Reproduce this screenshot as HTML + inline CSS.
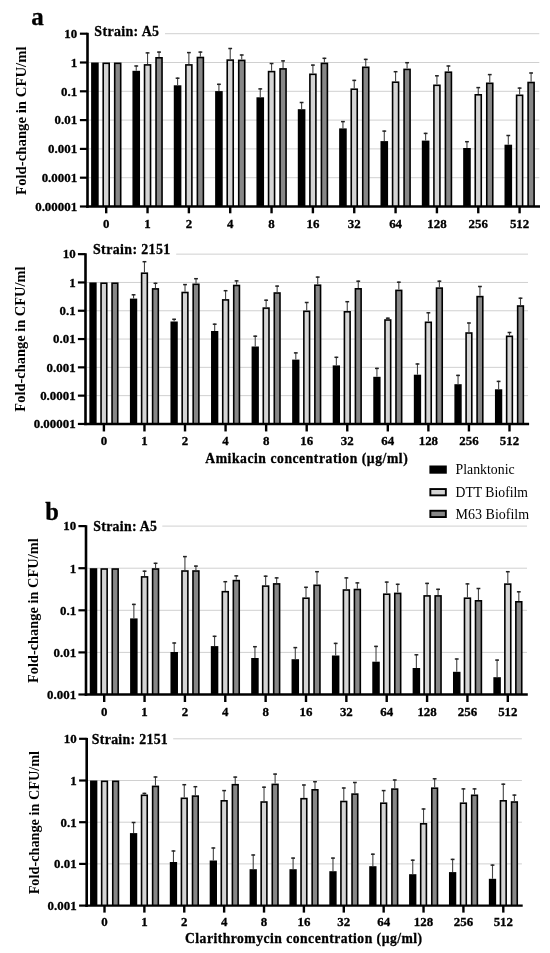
<!DOCTYPE html>
<html><head><meta charset="utf-8"><style>
html,body{margin:0;padding:0;background:#fff;}
svg{display:block;font-family:"Liberation Serif", serif;will-change:transform;filter:blur(0.3px);}
</style></head><body>
<svg width="550" height="953" viewBox="0 0 550 953" fill="#000">
<rect width="550" height="953" fill="#fff"/>
<line x1="165" y1="33.7" x2="539.3" y2="33.7" stroke="#d0d0d0" stroke-width="1"/>
<line x1="88.8" y1="62.5" x2="539.3" y2="62.5" stroke="#d0d0d0" stroke-width="1"/>
<line x1="88.8" y1="91.3" x2="539.3" y2="91.3" stroke="#d0d0d0" stroke-width="1"/>
<line x1="88.8" y1="120.1" x2="539.3" y2="120.1" stroke="#d0d0d0" stroke-width="1"/>
<line x1="88.8" y1="148.9" x2="539.3" y2="148.9" stroke="#d0d0d0" stroke-width="1"/>
<line x1="88.8" y1="177.7" x2="539.3" y2="177.7" stroke="#d0d0d0" stroke-width="1"/>
<rect x="91.1" y="62.5" width="7.6" height="144" fill="#000"/>
<rect x="102.4" y="62.5" width="7.6" height="144" fill="#000"/>
<rect x="104" y="64.1" width="4.4" height="142.4" fill="#d4d4d4"/>
<rect x="113.9" y="62.5" width="7.6" height="144" fill="#000"/>
<rect x="115.5" y="64.1" width="4.4" height="142.4" fill="#878787"/>
<rect x="132.44" y="70.8" width="7.6" height="135.7" fill="#000"/>
<line x1="136.24" y1="65.4" x2="136.24" y2="70.8" stroke="#444" stroke-width="1.1"/>
<line x1="134.34" y1="66" x2="138.14" y2="66" stroke="#222" stroke-width="1.5"/>
<rect x="143.74" y="64.1" width="7.6" height="142.4" fill="#000"/>
<rect x="145.34" y="65.7" width="4.4" height="140.8" fill="#d4d4d4"/>
<line x1="147.54" y1="52.3" x2="147.54" y2="64.1" stroke="#444" stroke-width="1.1"/>
<line x1="145.64" y1="52.9" x2="149.44" y2="52.9" stroke="#222" stroke-width="1.5"/>
<rect x="155.24" y="57" width="7.6" height="149.5" fill="#000"/>
<rect x="156.84" y="58.6" width="4.4" height="147.9" fill="#878787"/>
<line x1="159.04" y1="51.5" x2="159.04" y2="57" stroke="#444" stroke-width="1.1"/>
<line x1="157.14" y1="52.1" x2="160.94" y2="52.1" stroke="#222" stroke-width="1.5"/>
<rect x="173.78" y="85.3" width="7.6" height="121.2" fill="#000"/>
<line x1="177.58" y1="77.6" x2="177.58" y2="85.3" stroke="#444" stroke-width="1.1"/>
<line x1="175.68" y1="78.2" x2="179.48" y2="78.2" stroke="#222" stroke-width="1.5"/>
<rect x="185.08" y="64.1" width="7.6" height="142.4" fill="#000"/>
<rect x="186.68" y="65.7" width="4.4" height="140.8" fill="#d4d4d4"/>
<line x1="188.88" y1="52" x2="188.88" y2="64.1" stroke="#444" stroke-width="1.1"/>
<line x1="186.98" y1="52.6" x2="190.78" y2="52.6" stroke="#222" stroke-width="1.5"/>
<rect x="196.58" y="56.7" width="7.6" height="149.8" fill="#000"/>
<rect x="198.18" y="58.3" width="4.4" height="148.2" fill="#878787"/>
<line x1="200.38" y1="51.5" x2="200.38" y2="56.7" stroke="#444" stroke-width="1.1"/>
<line x1="198.48" y1="52.1" x2="202.28" y2="52.1" stroke="#222" stroke-width="1.5"/>
<rect x="215.12" y="91.1" width="7.6" height="115.4" fill="#000"/>
<line x1="218.92" y1="83.7" x2="218.92" y2="91.1" stroke="#444" stroke-width="1.1"/>
<line x1="217.02" y1="84.3" x2="220.82" y2="84.3" stroke="#222" stroke-width="1.5"/>
<rect x="226.42" y="59.3" width="7.6" height="147.2" fill="#000"/>
<rect x="228.02" y="60.9" width="4.4" height="145.6" fill="#d4d4d4"/>
<line x1="230.22" y1="47.9" x2="230.22" y2="59.3" stroke="#444" stroke-width="1.1"/>
<line x1="228.32" y1="48.5" x2="232.12" y2="48.5" stroke="#222" stroke-width="1.5"/>
<rect x="237.92" y="59.6" width="7.6" height="146.9" fill="#000"/>
<rect x="239.52" y="61.2" width="4.4" height="145.3" fill="#878787"/>
<line x1="241.72" y1="54.4" x2="241.72" y2="59.6" stroke="#444" stroke-width="1.1"/>
<line x1="239.82" y1="55" x2="243.62" y2="55" stroke="#222" stroke-width="1.5"/>
<rect x="256.46" y="97.3" width="7.6" height="109.2" fill="#000"/>
<line x1="260.26" y1="88.3" x2="260.26" y2="97.3" stroke="#444" stroke-width="1.1"/>
<line x1="258.36" y1="88.9" x2="262.16" y2="88.9" stroke="#222" stroke-width="1.5"/>
<rect x="267.76" y="70.8" width="7.6" height="135.7" fill="#000"/>
<rect x="269.36" y="72.4" width="4.4" height="134.1" fill="#d4d4d4"/>
<line x1="271.56" y1="62.9" x2="271.56" y2="70.8" stroke="#444" stroke-width="1.1"/>
<line x1="269.66" y1="63.5" x2="273.46" y2="63.5" stroke="#222" stroke-width="1.5"/>
<rect x="279.26" y="68.1" width="7.6" height="138.4" fill="#000"/>
<rect x="280.86" y="69.7" width="4.4" height="136.8" fill="#878787"/>
<line x1="283.06" y1="60.3" x2="283.06" y2="68.1" stroke="#444" stroke-width="1.1"/>
<line x1="281.16" y1="60.9" x2="284.96" y2="60.9" stroke="#222" stroke-width="1.5"/>
<rect x="297.8" y="109.2" width="7.6" height="97.3" fill="#000"/>
<line x1="301.6" y1="101.9" x2="301.6" y2="109.2" stroke="#444" stroke-width="1.1"/>
<line x1="299.7" y1="102.5" x2="303.5" y2="102.5" stroke="#222" stroke-width="1.5"/>
<rect x="309.1" y="73.5" width="7.6" height="133" fill="#000"/>
<rect x="310.7" y="75.1" width="4.4" height="131.4" fill="#d4d4d4"/>
<line x1="312.9" y1="64.5" x2="312.9" y2="73.5" stroke="#444" stroke-width="1.1"/>
<line x1="311" y1="65.1" x2="314.8" y2="65.1" stroke="#222" stroke-width="1.5"/>
<rect x="320.6" y="62.6" width="7.6" height="143.9" fill="#000"/>
<rect x="322.2" y="64.2" width="4.4" height="142.3" fill="#878787"/>
<line x1="324.4" y1="57.7" x2="324.4" y2="62.6" stroke="#444" stroke-width="1.1"/>
<line x1="322.5" y1="58.3" x2="326.3" y2="58.3" stroke="#222" stroke-width="1.5"/>
<rect x="339.14" y="128.4" width="7.6" height="78.1" fill="#000"/>
<line x1="342.94" y1="121" x2="342.94" y2="128.4" stroke="#444" stroke-width="1.1"/>
<line x1="341.04" y1="121.6" x2="344.84" y2="121.6" stroke="#222" stroke-width="1.5"/>
<rect x="350.44" y="88.4" width="7.6" height="118.1" fill="#000"/>
<rect x="352.04" y="90" width="4.4" height="116.5" fill="#d4d4d4"/>
<line x1="354.24" y1="79.8" x2="354.24" y2="88.4" stroke="#444" stroke-width="1.1"/>
<line x1="352.34" y1="80.4" x2="356.14" y2="80.4" stroke="#222" stroke-width="1.5"/>
<rect x="361.94" y="66.5" width="7.6" height="140" fill="#000"/>
<rect x="363.54" y="68.1" width="4.4" height="138.4" fill="#878787"/>
<line x1="365.74" y1="58.8" x2="365.74" y2="66.5" stroke="#444" stroke-width="1.1"/>
<line x1="363.84" y1="59.4" x2="367.64" y2="59.4" stroke="#222" stroke-width="1.5"/>
<rect x="380.48" y="141.1" width="7.6" height="65.4" fill="#000"/>
<line x1="384.28" y1="130.5" x2="384.28" y2="141.1" stroke="#444" stroke-width="1.1"/>
<line x1="382.38" y1="131.1" x2="386.18" y2="131.1" stroke="#222" stroke-width="1.5"/>
<rect x="391.78" y="81.4" width="7.6" height="125.1" fill="#000"/>
<rect x="393.38" y="83" width="4.4" height="123.5" fill="#d4d4d4"/>
<line x1="395.58" y1="71.1" x2="395.58" y2="81.4" stroke="#444" stroke-width="1.1"/>
<line x1="393.68" y1="71.7" x2="397.48" y2="71.7" stroke="#222" stroke-width="1.5"/>
<rect x="403.28" y="68.6" width="7.6" height="137.9" fill="#000"/>
<rect x="404.88" y="70.2" width="4.4" height="136.3" fill="#878787"/>
<line x1="407.08" y1="62.1" x2="407.08" y2="68.6" stroke="#444" stroke-width="1.1"/>
<line x1="405.18" y1="62.7" x2="408.98" y2="62.7" stroke="#222" stroke-width="1.5"/>
<rect x="421.82" y="140.6" width="7.6" height="65.9" fill="#000"/>
<line x1="425.62" y1="132.8" x2="425.62" y2="140.6" stroke="#444" stroke-width="1.1"/>
<line x1="423.72" y1="133.4" x2="427.52" y2="133.4" stroke="#222" stroke-width="1.5"/>
<rect x="433.12" y="84.5" width="7.6" height="122" fill="#000"/>
<rect x="434.72" y="86.1" width="4.4" height="120.4" fill="#d4d4d4"/>
<line x1="436.92" y1="75.2" x2="436.92" y2="84.5" stroke="#444" stroke-width="1.1"/>
<line x1="435.02" y1="75.8" x2="438.82" y2="75.8" stroke="#222" stroke-width="1.5"/>
<rect x="444.62" y="71.4" width="7.6" height="135.1" fill="#000"/>
<rect x="446.22" y="73" width="4.4" height="133.5" fill="#878787"/>
<line x1="448.42" y1="65.4" x2="448.42" y2="71.4" stroke="#444" stroke-width="1.1"/>
<line x1="446.52" y1="66" x2="450.32" y2="66" stroke="#222" stroke-width="1.5"/>
<rect x="463.16" y="148" width="7.6" height="58.5" fill="#000"/>
<line x1="466.96" y1="141.1" x2="466.96" y2="148" stroke="#444" stroke-width="1.1"/>
<line x1="465.06" y1="141.7" x2="468.86" y2="141.7" stroke="#222" stroke-width="1.5"/>
<rect x="474.46" y="94" width="7.6" height="112.5" fill="#000"/>
<rect x="476.06" y="95.6" width="4.4" height="110.9" fill="#d4d4d4"/>
<line x1="478.26" y1="87" x2="478.26" y2="94" stroke="#444" stroke-width="1.1"/>
<line x1="476.36" y1="87.6" x2="480.16" y2="87.6" stroke="#222" stroke-width="1.5"/>
<rect x="485.96" y="82.5" width="7.6" height="124" fill="#000"/>
<rect x="487.56" y="84.1" width="4.4" height="122.4" fill="#878787"/>
<line x1="489.76" y1="74" x2="489.76" y2="82.5" stroke="#444" stroke-width="1.1"/>
<line x1="487.86" y1="74.6" x2="491.66" y2="74.6" stroke="#222" stroke-width="1.5"/>
<rect x="504.5" y="144.7" width="7.6" height="61.8" fill="#000"/>
<line x1="508.3" y1="134.9" x2="508.3" y2="144.7" stroke="#444" stroke-width="1.1"/>
<line x1="506.4" y1="135.5" x2="510.2" y2="135.5" stroke="#222" stroke-width="1.5"/>
<rect x="515.8" y="94.5" width="7.6" height="112" fill="#000"/>
<rect x="517.4" y="96.1" width="4.4" height="110.4" fill="#d4d4d4"/>
<line x1="519.6" y1="87.5" x2="519.6" y2="94.5" stroke="#444" stroke-width="1.1"/>
<line x1="517.7" y1="88.1" x2="521.5" y2="88.1" stroke="#222" stroke-width="1.5"/>
<rect x="527.3" y="81.7" width="7.6" height="124.8" fill="#000"/>
<rect x="528.9" y="83.3" width="4.4" height="123.2" fill="#878787"/>
<line x1="531.1" y1="72.4" x2="531.1" y2="81.7" stroke="#444" stroke-width="1.1"/>
<line x1="529.2" y1="73" x2="533" y2="73" stroke="#222" stroke-width="1.5"/>
<line x1="87.5" y1="32.8" x2="87.5" y2="207.7" stroke="#000" stroke-width="2.6"/>
<line x1="86.2" y1="206.5" x2="540" y2="206.5" stroke="#000" stroke-width="2.4"/>
<line x1="79.9" y1="33.7" x2="87.5" y2="33.7" stroke="#000" stroke-width="2.2"/>
<text x="77.1" y="38" font-size="12.9" font-weight="bold" text-anchor="end" stroke="#000" stroke-width="0.3">10</text>
<line x1="79.9" y1="62.5" x2="87.5" y2="62.5" stroke="#000" stroke-width="2.2"/>
<text x="77.1" y="66.8" font-size="12.9" font-weight="bold" text-anchor="end" stroke="#000" stroke-width="0.3">1</text>
<line x1="79.9" y1="91.3" x2="87.5" y2="91.3" stroke="#000" stroke-width="2.2"/>
<text x="77.1" y="95.6" font-size="12.9" font-weight="bold" text-anchor="end" stroke="#000" stroke-width="0.3">0.1</text>
<line x1="79.9" y1="120.1" x2="87.5" y2="120.1" stroke="#000" stroke-width="2.2"/>
<text x="77.1" y="124.4" font-size="12.9" font-weight="bold" text-anchor="end" stroke="#000" stroke-width="0.3">0.01</text>
<line x1="79.9" y1="148.9" x2="87.5" y2="148.9" stroke="#000" stroke-width="2.2"/>
<text x="77.1" y="153.2" font-size="12.9" font-weight="bold" text-anchor="end" stroke="#000" stroke-width="0.3">0.001</text>
<line x1="79.9" y1="177.7" x2="87.5" y2="177.7" stroke="#000" stroke-width="2.2"/>
<text x="77.1" y="182" font-size="12.9" font-weight="bold" text-anchor="end" stroke="#000" stroke-width="0.3">0.0001</text>
<line x1="79.9" y1="206.5" x2="87.5" y2="206.5" stroke="#000" stroke-width="2.2"/>
<text x="77.1" y="210.8" font-size="12.9" font-weight="bold" text-anchor="end" stroke="#000" stroke-width="0.3">0.00001</text>
<line x1="106.2" y1="206.5" x2="106.2" y2="213.3" stroke="#000" stroke-width="2.4"/>
<text x="106.2" y="227.8" font-size="12.9" font-weight="bold" text-anchor="middle" stroke="#000" stroke-width="0.3">0</text>
<line x1="147.54" y1="206.5" x2="147.54" y2="213.3" stroke="#000" stroke-width="2.4"/>
<text x="147.54" y="227.8" font-size="12.9" font-weight="bold" text-anchor="middle" stroke="#000" stroke-width="0.3">1</text>
<line x1="188.88" y1="206.5" x2="188.88" y2="213.3" stroke="#000" stroke-width="2.4"/>
<text x="188.88" y="227.8" font-size="12.9" font-weight="bold" text-anchor="middle" stroke="#000" stroke-width="0.3">2</text>
<line x1="230.22" y1="206.5" x2="230.22" y2="213.3" stroke="#000" stroke-width="2.4"/>
<text x="230.22" y="227.8" font-size="12.9" font-weight="bold" text-anchor="middle" stroke="#000" stroke-width="0.3">4</text>
<line x1="271.56" y1="206.5" x2="271.56" y2="213.3" stroke="#000" stroke-width="2.4"/>
<text x="271.56" y="227.8" font-size="12.9" font-weight="bold" text-anchor="middle" stroke="#000" stroke-width="0.3">8</text>
<line x1="312.9" y1="206.5" x2="312.9" y2="213.3" stroke="#000" stroke-width="2.4"/>
<text x="312.9" y="227.8" font-size="12.9" font-weight="bold" text-anchor="middle" stroke="#000" stroke-width="0.3">16</text>
<line x1="354.24" y1="206.5" x2="354.24" y2="213.3" stroke="#000" stroke-width="2.4"/>
<text x="354.24" y="227.8" font-size="12.9" font-weight="bold" text-anchor="middle" stroke="#000" stroke-width="0.3">32</text>
<line x1="395.58" y1="206.5" x2="395.58" y2="213.3" stroke="#000" stroke-width="2.4"/>
<text x="395.58" y="227.8" font-size="12.9" font-weight="bold" text-anchor="middle" stroke="#000" stroke-width="0.3">64</text>
<line x1="436.92" y1="206.5" x2="436.92" y2="213.3" stroke="#000" stroke-width="2.4"/>
<text x="436.92" y="227.8" font-size="12.9" font-weight="bold" text-anchor="middle" stroke="#000" stroke-width="0.3">128</text>
<line x1="478.26" y1="206.5" x2="478.26" y2="213.3" stroke="#000" stroke-width="2.4"/>
<text x="478.26" y="227.8" font-size="12.9" font-weight="bold" text-anchor="middle" stroke="#000" stroke-width="0.3">256</text>
<line x1="519.6" y1="206.5" x2="519.6" y2="213.3" stroke="#000" stroke-width="2.4"/>
<text x="519.6" y="227.8" font-size="12.9" font-weight="bold" text-anchor="middle" stroke="#000" stroke-width="0.3">512</text>
<text x="94.3" y="36.4" font-size="13.9" font-weight="bold" text-anchor="start" stroke="#000" stroke-width="0.3" letter-spacing="0.37">Strain: A5</text>
<text x="25.7" y="120.65" font-size="14.77" font-weight="bold" text-anchor="middle" transform="rotate(-90 25.7 120.65)">Fold-change in CFU/ml</text>
<line x1="176.2" y1="254.15" x2="528" y2="254.15" stroke="#d0d0d0" stroke-width="1"/>
<line x1="86.8" y1="282.45" x2="528" y2="282.45" stroke="#d0d0d0" stroke-width="1"/>
<line x1="86.8" y1="310.75" x2="528" y2="310.75" stroke="#d0d0d0" stroke-width="1"/>
<line x1="86.8" y1="339.05" x2="528" y2="339.05" stroke="#d0d0d0" stroke-width="1"/>
<line x1="86.8" y1="367.35" x2="528" y2="367.35" stroke="#d0d0d0" stroke-width="1"/>
<line x1="86.8" y1="395.65" x2="528" y2="395.65" stroke="#d0d0d0" stroke-width="1"/>
<rect x="89.35" y="282.4" width="7.3" height="141.55" fill="#000"/>
<rect x="100.25" y="282.4" width="7.3" height="141.55" fill="#000"/>
<rect x="101.85" y="284" width="4.1" height="139.95" fill="#d4d4d4"/>
<rect x="111.25" y="282.4" width="7.3" height="141.55" fill="#000"/>
<rect x="112.85" y="284" width="4.1" height="139.95" fill="#878787"/>
<rect x="129.91" y="298.6" width="7.3" height="125.35" fill="#000"/>
<line x1="133.56" y1="294.2" x2="133.56" y2="298.6" stroke="#444" stroke-width="1.1"/>
<line x1="131.66" y1="294.8" x2="135.46" y2="294.8" stroke="#222" stroke-width="1.5"/>
<rect x="140.81" y="272.4" width="7.3" height="151.55" fill="#000"/>
<rect x="142.41" y="274" width="4.1" height="149.95" fill="#d4d4d4"/>
<line x1="144.46" y1="261.1" x2="144.46" y2="272.4" stroke="#444" stroke-width="1.1"/>
<line x1="142.56" y1="261.7" x2="146.36" y2="261.7" stroke="#222" stroke-width="1.5"/>
<rect x="151.81" y="288.1" width="7.3" height="135.85" fill="#000"/>
<rect x="153.41" y="289.7" width="4.1" height="134.25" fill="#878787"/>
<line x1="155.46" y1="282.7" x2="155.46" y2="288.1" stroke="#444" stroke-width="1.1"/>
<line x1="153.56" y1="283.3" x2="157.36" y2="283.3" stroke="#222" stroke-width="1.5"/>
<rect x="170.47" y="321.5" width="7.3" height="102.45" fill="#000"/>
<line x1="174.12" y1="318.7" x2="174.12" y2="321.5" stroke="#444" stroke-width="1.1"/>
<line x1="172.22" y1="319.3" x2="176.02" y2="319.3" stroke="#222" stroke-width="1.5"/>
<rect x="181.37" y="291.7" width="7.3" height="132.25" fill="#000"/>
<rect x="182.97" y="293.3" width="4.1" height="130.65" fill="#d4d4d4"/>
<line x1="185.02" y1="284" x2="185.02" y2="291.7" stroke="#444" stroke-width="1.1"/>
<line x1="183.12" y1="284.6" x2="186.92" y2="284.6" stroke="#222" stroke-width="1.5"/>
<rect x="192.37" y="283.5" width="7.3" height="140.45" fill="#000"/>
<rect x="193.97" y="285.1" width="4.1" height="138.85" fill="#878787"/>
<line x1="196.02" y1="278.1" x2="196.02" y2="283.5" stroke="#444" stroke-width="1.1"/>
<line x1="194.12" y1="278.7" x2="197.92" y2="278.7" stroke="#222" stroke-width="1.5"/>
<rect x="211.03" y="331" width="7.3" height="92.95" fill="#000"/>
<line x1="214.68" y1="323.6" x2="214.68" y2="331" stroke="#444" stroke-width="1.1"/>
<line x1="212.78" y1="324.2" x2="216.58" y2="324.2" stroke="#222" stroke-width="1.5"/>
<rect x="221.93" y="299.1" width="7.3" height="124.85" fill="#000"/>
<rect x="223.53" y="300.7" width="4.1" height="123.25" fill="#d4d4d4"/>
<line x1="225.58" y1="290.1" x2="225.58" y2="299.1" stroke="#444" stroke-width="1.1"/>
<line x1="223.68" y1="290.7" x2="227.48" y2="290.7" stroke="#222" stroke-width="1.5"/>
<rect x="232.93" y="284.7" width="7.3" height="139.25" fill="#000"/>
<rect x="234.53" y="286.3" width="4.1" height="137.65" fill="#878787"/>
<line x1="236.58" y1="280.3" x2="236.58" y2="284.7" stroke="#444" stroke-width="1.1"/>
<line x1="234.68" y1="280.9" x2="238.48" y2="280.9" stroke="#222" stroke-width="1.5"/>
<rect x="251.59" y="346.5" width="7.3" height="77.45" fill="#000"/>
<line x1="255.24" y1="335.6" x2="255.24" y2="346.5" stroke="#444" stroke-width="1.1"/>
<line x1="253.34" y1="336.2" x2="257.14" y2="336.2" stroke="#222" stroke-width="1.5"/>
<rect x="262.49" y="307.3" width="7.3" height="116.65" fill="#000"/>
<rect x="264.09" y="308.9" width="4.1" height="115.05" fill="#d4d4d4"/>
<line x1="266.14" y1="299.6" x2="266.14" y2="307.3" stroke="#444" stroke-width="1.1"/>
<line x1="264.24" y1="300.2" x2="268.04" y2="300.2" stroke="#222" stroke-width="1.5"/>
<rect x="273.49" y="292.2" width="7.3" height="131.75" fill="#000"/>
<rect x="275.09" y="293.8" width="4.1" height="130.15" fill="#878787"/>
<line x1="277.14" y1="285.5" x2="277.14" y2="292.2" stroke="#444" stroke-width="1.1"/>
<line x1="275.24" y1="286.1" x2="279.04" y2="286.1" stroke="#222" stroke-width="1.5"/>
<rect x="292.15" y="359.6" width="7.3" height="64.35" fill="#000"/>
<line x1="295.8" y1="352.3" x2="295.8" y2="359.6" stroke="#444" stroke-width="1.1"/>
<line x1="293.9" y1="352.9" x2="297.7" y2="352.9" stroke="#222" stroke-width="1.5"/>
<rect x="303.05" y="310.5" width="7.3" height="113.45" fill="#000"/>
<rect x="304.65" y="312.1" width="4.1" height="111.85" fill="#d4d4d4"/>
<line x1="306.7" y1="301.9" x2="306.7" y2="310.5" stroke="#444" stroke-width="1.1"/>
<line x1="304.8" y1="302.5" x2="308.6" y2="302.5" stroke="#222" stroke-width="1.5"/>
<rect x="314.05" y="284.4" width="7.3" height="139.55" fill="#000"/>
<rect x="315.65" y="286" width="4.1" height="137.95" fill="#878787"/>
<line x1="317.7" y1="276.5" x2="317.7" y2="284.4" stroke="#444" stroke-width="1.1"/>
<line x1="315.8" y1="277.1" x2="319.6" y2="277.1" stroke="#222" stroke-width="1.5"/>
<rect x="332.71" y="365.4" width="7.3" height="58.55" fill="#000"/>
<line x1="336.36" y1="356.7" x2="336.36" y2="365.4" stroke="#444" stroke-width="1.1"/>
<line x1="334.46" y1="357.3" x2="338.26" y2="357.3" stroke="#222" stroke-width="1.5"/>
<rect x="343.61" y="311" width="7.3" height="112.95" fill="#000"/>
<rect x="345.21" y="312.6" width="4.1" height="111.35" fill="#d4d4d4"/>
<line x1="347.26" y1="301.1" x2="347.26" y2="311" stroke="#444" stroke-width="1.1"/>
<line x1="345.36" y1="301.7" x2="349.16" y2="301.7" stroke="#222" stroke-width="1.5"/>
<rect x="354.61" y="288" width="7.3" height="135.95" fill="#000"/>
<rect x="356.21" y="289.6" width="4.1" height="134.35" fill="#878787"/>
<line x1="358.26" y1="280.6" x2="358.26" y2="288" stroke="#444" stroke-width="1.1"/>
<line x1="356.36" y1="281.2" x2="360.16" y2="281.2" stroke="#222" stroke-width="1.5"/>
<rect x="373.27" y="376.8" width="7.3" height="47.15" fill="#000"/>
<line x1="376.92" y1="367.8" x2="376.92" y2="376.8" stroke="#444" stroke-width="1.1"/>
<line x1="375.02" y1="368.4" x2="378.82" y2="368.4" stroke="#222" stroke-width="1.5"/>
<rect x="384.17" y="319.2" width="7.3" height="104.75" fill="#000"/>
<rect x="385.77" y="320.8" width="4.1" height="103.15" fill="#d4d4d4"/>
<line x1="387.82" y1="317.6" x2="387.82" y2="319.2" stroke="#444" stroke-width="1.1"/>
<line x1="385.92" y1="318.2" x2="389.72" y2="318.2" stroke="#222" stroke-width="1.5"/>
<rect x="395.17" y="289.6" width="7.3" height="134.35" fill="#000"/>
<rect x="396.77" y="291.2" width="4.1" height="132.75" fill="#878787"/>
<line x1="398.82" y1="281.6" x2="398.82" y2="289.6" stroke="#444" stroke-width="1.1"/>
<line x1="396.92" y1="282.2" x2="400.72" y2="282.2" stroke="#222" stroke-width="1.5"/>
<rect x="413.83" y="374.7" width="7.3" height="49.25" fill="#000"/>
<line x1="417.48" y1="363.4" x2="417.48" y2="374.7" stroke="#444" stroke-width="1.1"/>
<line x1="415.58" y1="364" x2="419.38" y2="364" stroke="#222" stroke-width="1.5"/>
<rect x="424.73" y="321.5" width="7.3" height="102.45" fill="#000"/>
<rect x="426.33" y="323.1" width="4.1" height="100.85" fill="#d4d4d4"/>
<line x1="428.38" y1="312.2" x2="428.38" y2="321.5" stroke="#444" stroke-width="1.1"/>
<line x1="426.48" y1="312.8" x2="430.28" y2="312.8" stroke="#222" stroke-width="1.5"/>
<rect x="435.73" y="287.3" width="7.3" height="136.65" fill="#000"/>
<rect x="437.33" y="288.9" width="4.1" height="135.05" fill="#878787"/>
<line x1="439.38" y1="280.6" x2="439.38" y2="287.3" stroke="#444" stroke-width="1.1"/>
<line x1="437.48" y1="281.2" x2="441.28" y2="281.2" stroke="#222" stroke-width="1.5"/>
<rect x="454.39" y="384.2" width="7.3" height="39.75" fill="#000"/>
<line x1="458.04" y1="374.8" x2="458.04" y2="384.2" stroke="#444" stroke-width="1.1"/>
<line x1="456.14" y1="375.4" x2="459.94" y2="375.4" stroke="#222" stroke-width="1.5"/>
<rect x="465.29" y="332.2" width="7.3" height="91.75" fill="#000"/>
<rect x="466.89" y="333.8" width="4.1" height="90.15" fill="#d4d4d4"/>
<line x1="468.94" y1="322.4" x2="468.94" y2="332.2" stroke="#444" stroke-width="1.1"/>
<line x1="467.04" y1="323" x2="470.84" y2="323" stroke="#222" stroke-width="1.5"/>
<rect x="476.29" y="295.8" width="7.3" height="128.15" fill="#000"/>
<rect x="477.89" y="297.4" width="4.1" height="126.55" fill="#878787"/>
<line x1="479.94" y1="285.9" x2="479.94" y2="295.8" stroke="#444" stroke-width="1.1"/>
<line x1="478.04" y1="286.5" x2="481.84" y2="286.5" stroke="#222" stroke-width="1.5"/>
<rect x="494.95" y="389.3" width="7.3" height="34.65" fill="#000"/>
<line x1="498.6" y1="380.8" x2="498.6" y2="389.3" stroke="#444" stroke-width="1.1"/>
<line x1="496.7" y1="381.4" x2="500.5" y2="381.4" stroke="#222" stroke-width="1.5"/>
<rect x="505.85" y="335.5" width="7.3" height="88.45" fill="#000"/>
<rect x="507.45" y="337.1" width="4.1" height="86.85" fill="#d4d4d4"/>
<line x1="509.5" y1="331.9" x2="509.5" y2="335.5" stroke="#444" stroke-width="1.1"/>
<line x1="507.6" y1="332.5" x2="511.4" y2="332.5" stroke="#222" stroke-width="1.5"/>
<rect x="516.85" y="305.2" width="7.3" height="118.75" fill="#000"/>
<rect x="518.45" y="306.8" width="4.1" height="117.15" fill="#878787"/>
<line x1="520.5" y1="297.6" x2="520.5" y2="305.2" stroke="#444" stroke-width="1.1"/>
<line x1="518.6" y1="298.2" x2="522.4" y2="298.2" stroke="#222" stroke-width="1.5"/>
<line x1="85.5" y1="253.25" x2="85.5" y2="425.15" stroke="#000" stroke-width="2.6"/>
<line x1="84.2" y1="423.95" x2="529.1" y2="423.95" stroke="#000" stroke-width="2.4"/>
<line x1="77.9" y1="254.15" x2="85.5" y2="254.15" stroke="#000" stroke-width="2.2"/>
<text x="75.6" y="258.45" font-size="12.9" font-weight="bold" text-anchor="end" stroke="#000" stroke-width="0.3">10</text>
<line x1="77.9" y1="282.45" x2="85.5" y2="282.45" stroke="#000" stroke-width="2.2"/>
<text x="75.6" y="286.75" font-size="12.9" font-weight="bold" text-anchor="end" stroke="#000" stroke-width="0.3">1</text>
<line x1="77.9" y1="310.75" x2="85.5" y2="310.75" stroke="#000" stroke-width="2.2"/>
<text x="75.6" y="315.05" font-size="12.9" font-weight="bold" text-anchor="end" stroke="#000" stroke-width="0.3">0.1</text>
<line x1="77.9" y1="339.05" x2="85.5" y2="339.05" stroke="#000" stroke-width="2.2"/>
<text x="75.6" y="343.35" font-size="12.9" font-weight="bold" text-anchor="end" stroke="#000" stroke-width="0.3">0.01</text>
<line x1="77.9" y1="367.35" x2="85.5" y2="367.35" stroke="#000" stroke-width="2.2"/>
<text x="75.6" y="371.65" font-size="12.9" font-weight="bold" text-anchor="end" stroke="#000" stroke-width="0.3">0.001</text>
<line x1="77.9" y1="395.65" x2="85.5" y2="395.65" stroke="#000" stroke-width="2.2"/>
<text x="75.6" y="399.95" font-size="12.9" font-weight="bold" text-anchor="end" stroke="#000" stroke-width="0.3">0.0001</text>
<line x1="77.9" y1="423.95" x2="85.5" y2="423.95" stroke="#000" stroke-width="2.2"/>
<text x="75.6" y="428.25" font-size="12.9" font-weight="bold" text-anchor="end" stroke="#000" stroke-width="0.3">0.00001</text>
<line x1="103.9" y1="423.95" x2="103.9" y2="431.45" stroke="#000" stroke-width="2.4"/>
<text x="103.9" y="444.7" font-size="12.9" font-weight="bold" text-anchor="middle" stroke="#000" stroke-width="0.3">0</text>
<line x1="144.46" y1="423.95" x2="144.46" y2="431.45" stroke="#000" stroke-width="2.4"/>
<text x="144.46" y="444.7" font-size="12.9" font-weight="bold" text-anchor="middle" stroke="#000" stroke-width="0.3">1</text>
<line x1="185.02" y1="423.95" x2="185.02" y2="431.45" stroke="#000" stroke-width="2.4"/>
<text x="185.02" y="444.7" font-size="12.9" font-weight="bold" text-anchor="middle" stroke="#000" stroke-width="0.3">2</text>
<line x1="225.58" y1="423.95" x2="225.58" y2="431.45" stroke="#000" stroke-width="2.4"/>
<text x="225.58" y="444.7" font-size="12.9" font-weight="bold" text-anchor="middle" stroke="#000" stroke-width="0.3">4</text>
<line x1="266.14" y1="423.95" x2="266.14" y2="431.45" stroke="#000" stroke-width="2.4"/>
<text x="266.14" y="444.7" font-size="12.9" font-weight="bold" text-anchor="middle" stroke="#000" stroke-width="0.3">8</text>
<line x1="306.7" y1="423.95" x2="306.7" y2="431.45" stroke="#000" stroke-width="2.4"/>
<text x="306.7" y="444.7" font-size="12.9" font-weight="bold" text-anchor="middle" stroke="#000" stroke-width="0.3">16</text>
<line x1="347.26" y1="423.95" x2="347.26" y2="431.45" stroke="#000" stroke-width="2.4"/>
<text x="347.26" y="444.7" font-size="12.9" font-weight="bold" text-anchor="middle" stroke="#000" stroke-width="0.3">32</text>
<line x1="387.82" y1="423.95" x2="387.82" y2="431.45" stroke="#000" stroke-width="2.4"/>
<text x="387.82" y="444.7" font-size="12.9" font-weight="bold" text-anchor="middle" stroke="#000" stroke-width="0.3">64</text>
<line x1="428.38" y1="423.95" x2="428.38" y2="431.45" stroke="#000" stroke-width="2.4"/>
<text x="428.38" y="444.7" font-size="12.9" font-weight="bold" text-anchor="middle" stroke="#000" stroke-width="0.3">128</text>
<line x1="468.94" y1="423.95" x2="468.94" y2="431.45" stroke="#000" stroke-width="2.4"/>
<text x="468.94" y="444.7" font-size="12.9" font-weight="bold" text-anchor="middle" stroke="#000" stroke-width="0.3">256</text>
<line x1="509.5" y1="423.95" x2="509.5" y2="431.45" stroke="#000" stroke-width="2.4"/>
<text x="509.5" y="444.7" font-size="12.9" font-weight="bold" text-anchor="middle" stroke="#000" stroke-width="0.3">512</text>
<text x="93" y="253.6" font-size="13.9" font-weight="bold" text-anchor="start" stroke="#000" stroke-width="0.3" letter-spacing="0.39">Strain: 2151</text>
<text x="24.6" y="339.05" font-size="14.45" font-weight="bold" text-anchor="middle" transform="rotate(-90 24.6 339.05)">Fold-change in CFU/ml</text>
<line x1="162.3" y1="526.1" x2="527" y2="526.1" stroke="#d0d0d0" stroke-width="1"/>
<line x1="87.3" y1="568.2" x2="527" y2="568.2" stroke="#d0d0d0" stroke-width="1"/>
<line x1="87.3" y1="610.3" x2="527" y2="610.3" stroke="#d0d0d0" stroke-width="1"/>
<line x1="87.3" y1="652.4" x2="527" y2="652.4" stroke="#d0d0d0" stroke-width="1"/>
<rect x="89.75" y="568.2" width="7.5" height="126.3" fill="#000"/>
<rect x="100.45" y="568.2" width="7.5" height="126.3" fill="#000"/>
<rect x="102.05" y="569.8" width="4.3" height="124.7" fill="#d4d4d4"/>
<rect x="111.45" y="568.2" width="7.5" height="126.3" fill="#000"/>
<rect x="113.05" y="569.8" width="4.3" height="124.7" fill="#878787"/>
<rect x="130.11" y="618.4" width="7.5" height="76.1" fill="#000"/>
<line x1="133.86" y1="603.8" x2="133.86" y2="618.4" stroke="#444" stroke-width="1.1"/>
<line x1="131.96" y1="604.4" x2="135.76" y2="604.4" stroke="#222" stroke-width="1.5"/>
<rect x="140.81" y="576.1" width="7.5" height="118.4" fill="#000"/>
<rect x="142.41" y="577.7" width="4.3" height="116.8" fill="#d4d4d4"/>
<line x1="144.56" y1="570.6" x2="144.56" y2="576.1" stroke="#444" stroke-width="1.1"/>
<line x1="142.66" y1="571.2" x2="146.46" y2="571.2" stroke="#222" stroke-width="1.5"/>
<rect x="151.81" y="568.2" width="7.5" height="126.3" fill="#000"/>
<rect x="153.41" y="569.8" width="4.3" height="124.7" fill="#878787"/>
<line x1="155.56" y1="562.7" x2="155.56" y2="568.2" stroke="#444" stroke-width="1.1"/>
<line x1="153.66" y1="563.3" x2="157.46" y2="563.3" stroke="#222" stroke-width="1.5"/>
<rect x="170.47" y="652" width="7.5" height="42.5" fill="#000"/>
<line x1="174.22" y1="642.4" x2="174.22" y2="652" stroke="#444" stroke-width="1.1"/>
<line x1="172.32" y1="643" x2="176.12" y2="643" stroke="#222" stroke-width="1.5"/>
<rect x="181.17" y="570.2" width="7.5" height="124.3" fill="#000"/>
<rect x="182.77" y="571.8" width="4.3" height="122.7" fill="#d4d4d4"/>
<line x1="184.92" y1="556" x2="184.92" y2="570.2" stroke="#444" stroke-width="1.1"/>
<line x1="183.02" y1="556.6" x2="186.82" y2="556.6" stroke="#222" stroke-width="1.5"/>
<rect x="192.17" y="570.2" width="7.5" height="124.3" fill="#000"/>
<rect x="193.77" y="571.8" width="4.3" height="122.7" fill="#878787"/>
<line x1="195.92" y1="565.5" x2="195.92" y2="570.2" stroke="#444" stroke-width="1.1"/>
<line x1="194.02" y1="566.1" x2="197.82" y2="566.1" stroke="#222" stroke-width="1.5"/>
<rect x="210.83" y="646.1" width="7.5" height="48.4" fill="#000"/>
<line x1="214.58" y1="635.7" x2="214.58" y2="646.1" stroke="#444" stroke-width="1.1"/>
<line x1="212.68" y1="636.3" x2="216.48" y2="636.3" stroke="#222" stroke-width="1.5"/>
<rect x="221.53" y="590.9" width="7.5" height="103.6" fill="#000"/>
<rect x="223.13" y="592.5" width="4.3" height="102" fill="#d4d4d4"/>
<line x1="225.28" y1="581.1" x2="225.28" y2="590.9" stroke="#444" stroke-width="1.1"/>
<line x1="223.38" y1="581.7" x2="227.18" y2="581.7" stroke="#222" stroke-width="1.5"/>
<rect x="232.53" y="579.8" width="7.5" height="114.7" fill="#000"/>
<rect x="234.13" y="581.4" width="4.3" height="113.1" fill="#878787"/>
<line x1="236.28" y1="575.3" x2="236.28" y2="579.8" stroke="#444" stroke-width="1.1"/>
<line x1="234.38" y1="575.9" x2="238.18" y2="575.9" stroke="#222" stroke-width="1.5"/>
<rect x="251.19" y="658" width="7.5" height="36.5" fill="#000"/>
<line x1="254.94" y1="646.1" x2="254.94" y2="658" stroke="#444" stroke-width="1.1"/>
<line x1="253.04" y1="646.7" x2="256.84" y2="646.7" stroke="#222" stroke-width="1.5"/>
<rect x="261.89" y="585.3" width="7.5" height="109.2" fill="#000"/>
<rect x="263.49" y="586.9" width="4.3" height="107.6" fill="#d4d4d4"/>
<line x1="265.64" y1="575.6" x2="265.64" y2="585.3" stroke="#444" stroke-width="1.1"/>
<line x1="263.74" y1="576.2" x2="267.54" y2="576.2" stroke="#222" stroke-width="1.5"/>
<rect x="272.89" y="583.1" width="7.5" height="111.4" fill="#000"/>
<rect x="274.49" y="584.7" width="4.3" height="109.8" fill="#878787"/>
<line x1="276.64" y1="577.3" x2="276.64" y2="583.1" stroke="#444" stroke-width="1.1"/>
<line x1="274.74" y1="577.9" x2="278.54" y2="577.9" stroke="#222" stroke-width="1.5"/>
<rect x="291.55" y="659.2" width="7.5" height="35.3" fill="#000"/>
<line x1="295.3" y1="647" x2="295.3" y2="659.2" stroke="#444" stroke-width="1.1"/>
<line x1="293.4" y1="647.6" x2="297.2" y2="647.6" stroke="#222" stroke-width="1.5"/>
<rect x="302.25" y="597.4" width="7.5" height="97.1" fill="#000"/>
<rect x="303.85" y="599" width="4.3" height="95.5" fill="#d4d4d4"/>
<line x1="306" y1="586.7" x2="306" y2="597.4" stroke="#444" stroke-width="1.1"/>
<line x1="304.1" y1="587.3" x2="307.9" y2="587.3" stroke="#222" stroke-width="1.5"/>
<rect x="313.25" y="584.5" width="7.5" height="110" fill="#000"/>
<rect x="314.85" y="586.1" width="4.3" height="108.4" fill="#878787"/>
<line x1="317" y1="571.1" x2="317" y2="584.5" stroke="#444" stroke-width="1.1"/>
<line x1="315.1" y1="571.7" x2="318.9" y2="571.7" stroke="#222" stroke-width="1.5"/>
<rect x="331.91" y="655.5" width="7.5" height="39" fill="#000"/>
<line x1="335.66" y1="642.8" x2="335.66" y2="655.5" stroke="#444" stroke-width="1.1"/>
<line x1="333.76" y1="643.4" x2="337.56" y2="643.4" stroke="#222" stroke-width="1.5"/>
<rect x="342.61" y="589.2" width="7.5" height="105.3" fill="#000"/>
<rect x="344.21" y="590.8" width="4.3" height="103.7" fill="#d4d4d4"/>
<line x1="346.36" y1="577.3" x2="346.36" y2="589.2" stroke="#444" stroke-width="1.1"/>
<line x1="344.46" y1="577.9" x2="348.26" y2="577.9" stroke="#222" stroke-width="1.5"/>
<rect x="353.61" y="588.7" width="7.5" height="105.8" fill="#000"/>
<rect x="355.21" y="590.3" width="4.3" height="104.2" fill="#878787"/>
<line x1="357.36" y1="582.3" x2="357.36" y2="588.7" stroke="#444" stroke-width="1.1"/>
<line x1="355.46" y1="582.9" x2="359.26" y2="582.9" stroke="#222" stroke-width="1.5"/>
<rect x="372.27" y="661.7" width="7.5" height="32.8" fill="#000"/>
<line x1="376.02" y1="645.8" x2="376.02" y2="661.7" stroke="#444" stroke-width="1.1"/>
<line x1="374.12" y1="646.4" x2="377.92" y2="646.4" stroke="#222" stroke-width="1.5"/>
<rect x="382.97" y="593.4" width="7.5" height="101.1" fill="#000"/>
<rect x="384.57" y="595" width="4.3" height="99.5" fill="#d4d4d4"/>
<line x1="386.72" y1="581.5" x2="386.72" y2="593.4" stroke="#444" stroke-width="1.1"/>
<line x1="384.82" y1="582.1" x2="388.62" y2="582.1" stroke="#222" stroke-width="1.5"/>
<rect x="393.97" y="592.6" width="7.5" height="101.9" fill="#000"/>
<rect x="395.57" y="594.2" width="4.3" height="100.3" fill="#878787"/>
<line x1="397.72" y1="583.7" x2="397.72" y2="592.6" stroke="#444" stroke-width="1.1"/>
<line x1="395.82" y1="584.3" x2="399.62" y2="584.3" stroke="#222" stroke-width="1.5"/>
<rect x="412.63" y="668" width="7.5" height="26.5" fill="#000"/>
<line x1="416.38" y1="654.2" x2="416.38" y2="668" stroke="#444" stroke-width="1.1"/>
<line x1="414.48" y1="654.8" x2="418.28" y2="654.8" stroke="#222" stroke-width="1.5"/>
<rect x="423.33" y="595.1" width="7.5" height="99.4" fill="#000"/>
<rect x="424.93" y="596.7" width="4.3" height="97.8" fill="#d4d4d4"/>
<line x1="427.08" y1="582.8" x2="427.08" y2="595.1" stroke="#444" stroke-width="1.1"/>
<line x1="425.18" y1="583.4" x2="428.98" y2="583.4" stroke="#222" stroke-width="1.5"/>
<rect x="434.33" y="595.1" width="7.5" height="99.4" fill="#000"/>
<rect x="435.93" y="596.7" width="4.3" height="97.8" fill="#878787"/>
<line x1="438.08" y1="588.7" x2="438.08" y2="595.1" stroke="#444" stroke-width="1.1"/>
<line x1="436.18" y1="589.3" x2="439.98" y2="589.3" stroke="#222" stroke-width="1.5"/>
<rect x="452.99" y="671.8" width="7.5" height="22.7" fill="#000"/>
<line x1="456.74" y1="658.4" x2="456.74" y2="671.8" stroke="#444" stroke-width="1.1"/>
<line x1="454.84" y1="659" x2="458.64" y2="659" stroke="#222" stroke-width="1.5"/>
<rect x="463.69" y="597.4" width="7.5" height="97.1" fill="#000"/>
<rect x="465.29" y="599" width="4.3" height="95.5" fill="#d4d4d4"/>
<line x1="467.44" y1="583.3" x2="467.44" y2="597.4" stroke="#444" stroke-width="1.1"/>
<line x1="465.54" y1="583.9" x2="469.34" y2="583.9" stroke="#222" stroke-width="1.5"/>
<rect x="474.69" y="600" width="7.5" height="94.5" fill="#000"/>
<rect x="476.29" y="601.6" width="4.3" height="92.9" fill="#878787"/>
<line x1="478.44" y1="587.9" x2="478.44" y2="600" stroke="#444" stroke-width="1.1"/>
<line x1="476.54" y1="588.5" x2="480.34" y2="588.5" stroke="#222" stroke-width="1.5"/>
<rect x="493.35" y="677.2" width="7.5" height="17.3" fill="#000"/>
<line x1="497.1" y1="659.5" x2="497.1" y2="677.2" stroke="#444" stroke-width="1.1"/>
<line x1="495.2" y1="660.1" x2="499" y2="660.1" stroke="#222" stroke-width="1.5"/>
<rect x="504.05" y="583.3" width="7.5" height="111.2" fill="#000"/>
<rect x="505.65" y="584.9" width="4.3" height="109.6" fill="#d4d4d4"/>
<line x1="507.8" y1="571.1" x2="507.8" y2="583.3" stroke="#444" stroke-width="1.1"/>
<line x1="505.9" y1="571.7" x2="509.7" y2="571.7" stroke="#222" stroke-width="1.5"/>
<rect x="515.05" y="601" width="7.5" height="93.5" fill="#000"/>
<rect x="516.65" y="602.6" width="4.3" height="91.9" fill="#878787"/>
<line x1="518.8" y1="591.2" x2="518.8" y2="601" stroke="#444" stroke-width="1.1"/>
<line x1="516.9" y1="591.8" x2="520.7" y2="591.8" stroke="#222" stroke-width="1.5"/>
<line x1="86" y1="525.2" x2="86" y2="695.7" stroke="#000" stroke-width="2.6"/>
<line x1="84.7" y1="694.5" x2="527.8" y2="694.5" stroke="#000" stroke-width="2.4"/>
<line x1="78.4" y1="526.1" x2="86" y2="526.1" stroke="#000" stroke-width="2.2"/>
<text x="76.1" y="530.4" font-size="12.9" font-weight="bold" text-anchor="end" stroke="#000" stroke-width="0.3">10</text>
<line x1="78.4" y1="568.2" x2="86" y2="568.2" stroke="#000" stroke-width="2.2"/>
<text x="76.1" y="572.5" font-size="12.9" font-weight="bold" text-anchor="end" stroke="#000" stroke-width="0.3">1</text>
<line x1="78.4" y1="610.3" x2="86" y2="610.3" stroke="#000" stroke-width="2.2"/>
<text x="76.1" y="614.6" font-size="12.9" font-weight="bold" text-anchor="end" stroke="#000" stroke-width="0.3">0.1</text>
<line x1="78.4" y1="652.4" x2="86" y2="652.4" stroke="#000" stroke-width="2.2"/>
<text x="76.1" y="656.7" font-size="12.9" font-weight="bold" text-anchor="end" stroke="#000" stroke-width="0.3">0.01</text>
<line x1="78.4" y1="694.5" x2="86" y2="694.5" stroke="#000" stroke-width="2.2"/>
<text x="76.1" y="698.8" font-size="12.9" font-weight="bold" text-anchor="end" stroke="#000" stroke-width="0.3">0.001</text>
<line x1="104.2" y1="694.5" x2="104.2" y2="702" stroke="#000" stroke-width="2.4"/>
<text x="104.2" y="715.7" font-size="12.9" font-weight="bold" text-anchor="middle" stroke="#000" stroke-width="0.3">0</text>
<line x1="144.56" y1="694.5" x2="144.56" y2="702" stroke="#000" stroke-width="2.4"/>
<text x="144.56" y="715.7" font-size="12.9" font-weight="bold" text-anchor="middle" stroke="#000" stroke-width="0.3">1</text>
<line x1="184.92" y1="694.5" x2="184.92" y2="702" stroke="#000" stroke-width="2.4"/>
<text x="184.92" y="715.7" font-size="12.9" font-weight="bold" text-anchor="middle" stroke="#000" stroke-width="0.3">2</text>
<line x1="225.28" y1="694.5" x2="225.28" y2="702" stroke="#000" stroke-width="2.4"/>
<text x="225.28" y="715.7" font-size="12.9" font-weight="bold" text-anchor="middle" stroke="#000" stroke-width="0.3">4</text>
<line x1="265.64" y1="694.5" x2="265.64" y2="702" stroke="#000" stroke-width="2.4"/>
<text x="265.64" y="715.7" font-size="12.9" font-weight="bold" text-anchor="middle" stroke="#000" stroke-width="0.3">8</text>
<line x1="306" y1="694.5" x2="306" y2="702" stroke="#000" stroke-width="2.4"/>
<text x="306" y="715.7" font-size="12.9" font-weight="bold" text-anchor="middle" stroke="#000" stroke-width="0.3">16</text>
<line x1="346.36" y1="694.5" x2="346.36" y2="702" stroke="#000" stroke-width="2.4"/>
<text x="346.36" y="715.7" font-size="12.9" font-weight="bold" text-anchor="middle" stroke="#000" stroke-width="0.3">32</text>
<line x1="386.72" y1="694.5" x2="386.72" y2="702" stroke="#000" stroke-width="2.4"/>
<text x="386.72" y="715.7" font-size="12.9" font-weight="bold" text-anchor="middle" stroke="#000" stroke-width="0.3">64</text>
<line x1="427.08" y1="694.5" x2="427.08" y2="702" stroke="#000" stroke-width="2.4"/>
<text x="427.08" y="715.7" font-size="12.9" font-weight="bold" text-anchor="middle" stroke="#000" stroke-width="0.3">128</text>
<line x1="467.44" y1="694.5" x2="467.44" y2="702" stroke="#000" stroke-width="2.4"/>
<text x="467.44" y="715.7" font-size="12.9" font-weight="bold" text-anchor="middle" stroke="#000" stroke-width="0.3">256</text>
<line x1="507.8" y1="694.5" x2="507.8" y2="702" stroke="#000" stroke-width="2.4"/>
<text x="507.8" y="715.7" font-size="12.9" font-weight="bold" text-anchor="middle" stroke="#000" stroke-width="0.3">512</text>
<text x="93.3" y="531.3" font-size="13.8" font-weight="bold" text-anchor="start" stroke="#000" stroke-width="0.3" letter-spacing="0.3">Strain: A5</text>
<text x="38.5" y="610.7" font-size="14.4" font-weight="bold" text-anchor="middle" transform="rotate(-90 38.5 610.7)">Fold-change in CFU/ml</text>
<line x1="173.2" y1="738.8" x2="521.9" y2="738.8" stroke="#d0d0d0" stroke-width="1"/>
<line x1="88" y1="780.5" x2="521.9" y2="780.5" stroke="#d0d0d0" stroke-width="1"/>
<line x1="88" y1="822.2" x2="521.9" y2="822.2" stroke="#d0d0d0" stroke-width="1"/>
<line x1="88" y1="863.9" x2="521.9" y2="863.9" stroke="#d0d0d0" stroke-width="1"/>
<rect x="90.05" y="780.5" width="7.3" height="125.1" fill="#000"/>
<rect x="100.85" y="780.5" width="7.3" height="125.1" fill="#000"/>
<rect x="102.45" y="782.1" width="4.1" height="123.5" fill="#d4d4d4"/>
<rect x="111.95" y="780.5" width="7.3" height="125.1" fill="#000"/>
<rect x="113.55" y="782.1" width="4.1" height="123.5" fill="#878787"/>
<rect x="129.93" y="833.1" width="7.3" height="72.5" fill="#000"/>
<line x1="133.58" y1="821.9" x2="133.58" y2="833.1" stroke="#444" stroke-width="1.1"/>
<line x1="131.68" y1="822.5" x2="135.48" y2="822.5" stroke="#222" stroke-width="1.5"/>
<rect x="140.73" y="794.5" width="7.3" height="111.1" fill="#000"/>
<rect x="142.33" y="796.1" width="4.1" height="109.5" fill="#d4d4d4"/>
<line x1="144.38" y1="792.8" x2="144.38" y2="794.5" stroke="#444" stroke-width="1.1"/>
<line x1="142.48" y1="793.4" x2="146.28" y2="793.4" stroke="#222" stroke-width="1.5"/>
<rect x="151.83" y="785.6" width="7.3" height="120" fill="#000"/>
<rect x="153.43" y="787.2" width="4.1" height="118.4" fill="#878787"/>
<line x1="155.48" y1="776.4" x2="155.48" y2="785.6" stroke="#444" stroke-width="1.1"/>
<line x1="153.58" y1="777" x2="157.38" y2="777" stroke="#222" stroke-width="1.5"/>
<rect x="169.81" y="862" width="7.3" height="43.6" fill="#000"/>
<line x1="173.46" y1="850.4" x2="173.46" y2="862" stroke="#444" stroke-width="1.1"/>
<line x1="171.56" y1="851" x2="175.36" y2="851" stroke="#222" stroke-width="1.5"/>
<rect x="180.61" y="797.5" width="7.3" height="108.1" fill="#000"/>
<rect x="182.21" y="799.1" width="4.1" height="106.5" fill="#d4d4d4"/>
<line x1="184.26" y1="784.1" x2="184.26" y2="797.5" stroke="#444" stroke-width="1.1"/>
<line x1="182.36" y1="784.7" x2="186.16" y2="784.7" stroke="#222" stroke-width="1.5"/>
<rect x="191.71" y="795.3" width="7.3" height="110.3" fill="#000"/>
<rect x="193.31" y="796.9" width="4.1" height="108.7" fill="#878787"/>
<line x1="195.36" y1="786.1" x2="195.36" y2="795.3" stroke="#444" stroke-width="1.1"/>
<line x1="193.46" y1="786.7" x2="197.26" y2="786.7" stroke="#222" stroke-width="1.5"/>
<rect x="209.69" y="860.5" width="7.3" height="45.1" fill="#000"/>
<line x1="213.34" y1="847.4" x2="213.34" y2="860.5" stroke="#444" stroke-width="1.1"/>
<line x1="211.44" y1="848" x2="215.24" y2="848" stroke="#222" stroke-width="1.5"/>
<rect x="220.49" y="800" width="7.3" height="105.6" fill="#000"/>
<rect x="222.09" y="801.6" width="4.1" height="104" fill="#d4d4d4"/>
<line x1="224.14" y1="790" x2="224.14" y2="800" stroke="#444" stroke-width="1.1"/>
<line x1="222.24" y1="790.6" x2="226.04" y2="790.6" stroke="#222" stroke-width="1.5"/>
<rect x="231.59" y="783.9" width="7.3" height="121.7" fill="#000"/>
<rect x="233.19" y="785.5" width="4.1" height="120.1" fill="#878787"/>
<line x1="235.24" y1="776.5" x2="235.24" y2="783.9" stroke="#444" stroke-width="1.1"/>
<line x1="233.34" y1="777.1" x2="237.14" y2="777.1" stroke="#222" stroke-width="1.5"/>
<rect x="249.57" y="869.2" width="7.3" height="36.4" fill="#000"/>
<line x1="253.22" y1="854.4" x2="253.22" y2="869.2" stroke="#444" stroke-width="1.1"/>
<line x1="251.32" y1="855" x2="255.12" y2="855" stroke="#222" stroke-width="1.5"/>
<rect x="260.37" y="801.2" width="7.3" height="104.4" fill="#000"/>
<rect x="261.97" y="802.8" width="4.1" height="102.8" fill="#d4d4d4"/>
<line x1="264.02" y1="786.6" x2="264.02" y2="801.2" stroke="#444" stroke-width="1.1"/>
<line x1="262.12" y1="787.2" x2="265.92" y2="787.2" stroke="#222" stroke-width="1.5"/>
<rect x="271.47" y="783.6" width="7.3" height="122" fill="#000"/>
<rect x="273.07" y="785.2" width="4.1" height="120.4" fill="#878787"/>
<line x1="275.12" y1="773.5" x2="275.12" y2="783.6" stroke="#444" stroke-width="1.1"/>
<line x1="273.22" y1="774.1" x2="277.02" y2="774.1" stroke="#222" stroke-width="1.5"/>
<rect x="289.45" y="869.2" width="7.3" height="36.4" fill="#000"/>
<line x1="293.1" y1="857.5" x2="293.1" y2="869.2" stroke="#444" stroke-width="1.1"/>
<line x1="291.2" y1="858.1" x2="295" y2="858.1" stroke="#222" stroke-width="1.5"/>
<rect x="300.25" y="797.9" width="7.3" height="107.7" fill="#000"/>
<rect x="301.85" y="799.5" width="4.1" height="106.1" fill="#d4d4d4"/>
<line x1="303.9" y1="784.4" x2="303.9" y2="797.9" stroke="#444" stroke-width="1.1"/>
<line x1="302" y1="785" x2="305.8" y2="785" stroke="#222" stroke-width="1.5"/>
<rect x="311.35" y="789" width="7.3" height="116.6" fill="#000"/>
<rect x="312.95" y="790.6" width="4.1" height="115" fill="#878787"/>
<line x1="315" y1="781.1" x2="315" y2="789" stroke="#444" stroke-width="1.1"/>
<line x1="313.1" y1="781.7" x2="316.9" y2="781.7" stroke="#222" stroke-width="1.5"/>
<rect x="329.33" y="871.2" width="7.3" height="34.4" fill="#000"/>
<line x1="332.98" y1="857.5" x2="332.98" y2="871.2" stroke="#444" stroke-width="1.1"/>
<line x1="331.08" y1="858.1" x2="334.88" y2="858.1" stroke="#222" stroke-width="1.5"/>
<rect x="340.13" y="800.7" width="7.3" height="104.9" fill="#000"/>
<rect x="341.73" y="802.3" width="4.1" height="103.3" fill="#d4d4d4"/>
<line x1="343.78" y1="787.4" x2="343.78" y2="800.7" stroke="#444" stroke-width="1.1"/>
<line x1="341.88" y1="788" x2="345.68" y2="788" stroke="#222" stroke-width="1.5"/>
<rect x="351.23" y="793.3" width="7.3" height="112.3" fill="#000"/>
<rect x="352.83" y="794.9" width="4.1" height="110.7" fill="#878787"/>
<line x1="354.88" y1="781.9" x2="354.88" y2="793.3" stroke="#444" stroke-width="1.1"/>
<line x1="352.98" y1="782.5" x2="356.78" y2="782.5" stroke="#222" stroke-width="1.5"/>
<rect x="369.21" y="866.2" width="7.3" height="39.4" fill="#000"/>
<line x1="372.86" y1="853.6" x2="372.86" y2="866.2" stroke="#444" stroke-width="1.1"/>
<line x1="370.96" y1="854.2" x2="374.76" y2="854.2" stroke="#222" stroke-width="1.5"/>
<rect x="380.01" y="802.4" width="7.3" height="103.2" fill="#000"/>
<rect x="381.61" y="804" width="4.1" height="101.6" fill="#d4d4d4"/>
<line x1="383.66" y1="790" x2="383.66" y2="802.4" stroke="#444" stroke-width="1.1"/>
<line x1="381.76" y1="790.6" x2="385.56" y2="790.6" stroke="#222" stroke-width="1.5"/>
<rect x="391.11" y="788.3" width="7.3" height="117.3" fill="#000"/>
<rect x="392.71" y="789.9" width="4.1" height="115.7" fill="#878787"/>
<line x1="394.76" y1="779.4" x2="394.76" y2="788.3" stroke="#444" stroke-width="1.1"/>
<line x1="392.86" y1="780" x2="396.66" y2="780" stroke="#222" stroke-width="1.5"/>
<rect x="409.09" y="874.2" width="7.3" height="31.4" fill="#000"/>
<line x1="412.74" y1="859.6" x2="412.74" y2="874.2" stroke="#444" stroke-width="1.1"/>
<line x1="410.84" y1="860.2" x2="414.64" y2="860.2" stroke="#222" stroke-width="1.5"/>
<rect x="419.89" y="823" width="7.3" height="82.6" fill="#000"/>
<rect x="421.49" y="824.6" width="4.1" height="81" fill="#d4d4d4"/>
<line x1="423.54" y1="808.4" x2="423.54" y2="823" stroke="#444" stroke-width="1.1"/>
<line x1="421.64" y1="809" x2="425.44" y2="809" stroke="#222" stroke-width="1.5"/>
<rect x="430.99" y="787.4" width="7.3" height="118.2" fill="#000"/>
<rect x="432.59" y="789" width="4.1" height="116.6" fill="#878787"/>
<line x1="434.64" y1="778.2" x2="434.64" y2="787.4" stroke="#444" stroke-width="1.1"/>
<line x1="432.74" y1="778.8" x2="436.54" y2="778.8" stroke="#222" stroke-width="1.5"/>
<rect x="448.97" y="872.1" width="7.3" height="33.5" fill="#000"/>
<line x1="452.62" y1="858.8" x2="452.62" y2="872.1" stroke="#444" stroke-width="1.1"/>
<line x1="450.72" y1="859.4" x2="454.52" y2="859.4" stroke="#222" stroke-width="1.5"/>
<rect x="459.77" y="802.4" width="7.3" height="103.2" fill="#000"/>
<rect x="461.37" y="804" width="4.1" height="101.6" fill="#d4d4d4"/>
<line x1="463.42" y1="788.3" x2="463.42" y2="802.4" stroke="#444" stroke-width="1.1"/>
<line x1="461.52" y1="788.9" x2="465.32" y2="788.9" stroke="#222" stroke-width="1.5"/>
<rect x="470.87" y="794.5" width="7.3" height="111.1" fill="#000"/>
<rect x="472.47" y="796.1" width="4.1" height="109.5" fill="#878787"/>
<line x1="474.52" y1="788.3" x2="474.52" y2="794.5" stroke="#444" stroke-width="1.1"/>
<line x1="472.62" y1="788.9" x2="476.42" y2="788.9" stroke="#222" stroke-width="1.5"/>
<rect x="488.85" y="878.8" width="7.3" height="26.8" fill="#000"/>
<line x1="492.5" y1="864.5" x2="492.5" y2="878.8" stroke="#444" stroke-width="1.1"/>
<line x1="490.6" y1="865.1" x2="494.4" y2="865.1" stroke="#222" stroke-width="1.5"/>
<rect x="499.65" y="800" width="7.3" height="105.6" fill="#000"/>
<rect x="501.25" y="801.6" width="4.1" height="104" fill="#d4d4d4"/>
<line x1="503.3" y1="783.6" x2="503.3" y2="800" stroke="#444" stroke-width="1.1"/>
<line x1="501.4" y1="784.2" x2="505.2" y2="784.2" stroke="#222" stroke-width="1.5"/>
<rect x="510.75" y="801.2" width="7.3" height="104.4" fill="#000"/>
<rect x="512.35" y="802.8" width="4.1" height="102.8" fill="#878787"/>
<line x1="514.4" y1="794.5" x2="514.4" y2="801.2" stroke="#444" stroke-width="1.1"/>
<line x1="512.5" y1="795.1" x2="516.3" y2="795.1" stroke="#222" stroke-width="1.5"/>
<line x1="86.7" y1="737.9" x2="86.7" y2="906.8" stroke="#000" stroke-width="2.6"/>
<line x1="85.4" y1="905.6" x2="522.7" y2="905.6" stroke="#000" stroke-width="2.4"/>
<line x1="79.1" y1="738.8" x2="86.7" y2="738.8" stroke="#000" stroke-width="2.2"/>
<text x="76.6" y="743.1" font-size="12.9" font-weight="bold" text-anchor="end" stroke="#000" stroke-width="0.3">10</text>
<line x1="79.1" y1="780.5" x2="86.7" y2="780.5" stroke="#000" stroke-width="2.2"/>
<text x="76.6" y="784.8" font-size="12.9" font-weight="bold" text-anchor="end" stroke="#000" stroke-width="0.3">1</text>
<line x1="79.1" y1="822.2" x2="86.7" y2="822.2" stroke="#000" stroke-width="2.2"/>
<text x="76.6" y="826.5" font-size="12.9" font-weight="bold" text-anchor="end" stroke="#000" stroke-width="0.3">0.1</text>
<line x1="79.1" y1="863.9" x2="86.7" y2="863.9" stroke="#000" stroke-width="2.2"/>
<text x="76.6" y="868.2" font-size="12.9" font-weight="bold" text-anchor="end" stroke="#000" stroke-width="0.3">0.01</text>
<line x1="79.1" y1="905.6" x2="86.7" y2="905.6" stroke="#000" stroke-width="2.2"/>
<text x="76.6" y="909.9" font-size="12.9" font-weight="bold" text-anchor="end" stroke="#000" stroke-width="0.3">0.001</text>
<line x1="104.5" y1="905.6" x2="104.5" y2="912.6" stroke="#000" stroke-width="2.4"/>
<text x="104.5" y="926.3" font-size="12.9" font-weight="bold" text-anchor="middle" stroke="#000" stroke-width="0.3">0</text>
<line x1="144.38" y1="905.6" x2="144.38" y2="912.6" stroke="#000" stroke-width="2.4"/>
<text x="144.38" y="926.3" font-size="12.9" font-weight="bold" text-anchor="middle" stroke="#000" stroke-width="0.3">1</text>
<line x1="184.26" y1="905.6" x2="184.26" y2="912.6" stroke="#000" stroke-width="2.4"/>
<text x="184.26" y="926.3" font-size="12.9" font-weight="bold" text-anchor="middle" stroke="#000" stroke-width="0.3">2</text>
<line x1="224.14" y1="905.6" x2="224.14" y2="912.6" stroke="#000" stroke-width="2.4"/>
<text x="224.14" y="926.3" font-size="12.9" font-weight="bold" text-anchor="middle" stroke="#000" stroke-width="0.3">4</text>
<line x1="264.02" y1="905.6" x2="264.02" y2="912.6" stroke="#000" stroke-width="2.4"/>
<text x="264.02" y="926.3" font-size="12.9" font-weight="bold" text-anchor="middle" stroke="#000" stroke-width="0.3">8</text>
<line x1="303.9" y1="905.6" x2="303.9" y2="912.6" stroke="#000" stroke-width="2.4"/>
<text x="303.9" y="926.3" font-size="12.9" font-weight="bold" text-anchor="middle" stroke="#000" stroke-width="0.3">16</text>
<line x1="343.78" y1="905.6" x2="343.78" y2="912.6" stroke="#000" stroke-width="2.4"/>
<text x="343.78" y="926.3" font-size="12.9" font-weight="bold" text-anchor="middle" stroke="#000" stroke-width="0.3">32</text>
<line x1="383.66" y1="905.6" x2="383.66" y2="912.6" stroke="#000" stroke-width="2.4"/>
<text x="383.66" y="926.3" font-size="12.9" font-weight="bold" text-anchor="middle" stroke="#000" stroke-width="0.3">64</text>
<line x1="423.54" y1="905.6" x2="423.54" y2="912.6" stroke="#000" stroke-width="2.4"/>
<text x="423.54" y="926.3" font-size="12.9" font-weight="bold" text-anchor="middle" stroke="#000" stroke-width="0.3">128</text>
<line x1="463.42" y1="905.6" x2="463.42" y2="912.6" stroke="#000" stroke-width="2.4"/>
<text x="463.42" y="926.3" font-size="12.9" font-weight="bold" text-anchor="middle" stroke="#000" stroke-width="0.3">256</text>
<line x1="503.3" y1="905.6" x2="503.3" y2="912.6" stroke="#000" stroke-width="2.4"/>
<text x="503.3" y="926.3" font-size="12.9" font-weight="bold" text-anchor="middle" stroke="#000" stroke-width="0.3">512</text>
<text x="91.8" y="743.6" font-size="13.8" font-weight="bold" text-anchor="start" stroke="#000" stroke-width="0.3" letter-spacing="0.32">Strain: 2151</text>
<text x="39.4" y="822.65" font-size="14.27" font-weight="bold" text-anchor="middle" transform="rotate(-90 39.4 822.65)">Fold-change in CFU/ml</text>
<text x="31.2" y="25.2" font-size="25" font-weight="bold" text-anchor="start" stroke="#000" stroke-width="0.3">a</text>
<text x="45.3" y="519.6" font-size="24.5" font-weight="bold" text-anchor="start" stroke="#000" stroke-width="0.3">b</text>
<text x="205.3" y="462.8" font-size="13.6" font-weight="bold" text-anchor="start" stroke="#000" stroke-width="0.3" letter-spacing="0.565">Amikacin concentration (µg/ml)</text>
<text x="185" y="942.5" font-size="13.6" font-weight="bold" text-anchor="start" stroke="#000" stroke-width="0.3" letter-spacing="0.497">Clarithromycin concentration (µg/ml)</text>
<rect x="429.4" y="465.5" width="17.4" height="8.2" fill="#000"/>
<text x="455.6" y="474.4" font-size="13.8" font-weight="normal" text-anchor="start">Planktonic</text>
<rect x="429.4" y="488.1" width="17.4" height="8.2" fill="#000"/>
<rect x="431.3" y="490" width="13.6" height="4.4" fill="#d4d4d4"/>
<text x="455.6" y="496.5" font-size="13.7" font-weight="normal" text-anchor="start">DTT Biofilm</text>
<rect x="429.4" y="509.8" width="17.4" height="8.2" fill="#000"/>
<rect x="431.3" y="511.7" width="13.6" height="4.4" fill="#878787"/>
<text x="455.6" y="518.8" font-size="14.0" font-weight="normal" text-anchor="start">M63 Biofilm</text>
</svg>
</body></html>
